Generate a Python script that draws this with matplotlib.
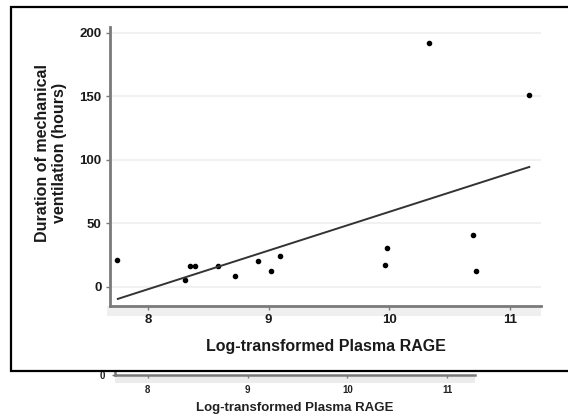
import matplotlib
matplotlib.use('Agg')
import matplotlib.pyplot as plt
from matplotlib.patches import Rectangle
import numpy as np

plt.rcParams['font.family'] = ['Liberation Sans', 'DejaVu Sans']

# scatter values
rage = [7.74, 8.31, 8.35, 8.39, 8.58, 8.72, 8.91, 9.02, 9.09,
        9.96, 9.98, 10.33, 10.69, 10.72, 11.16]
hours = [21, 5.5, 16.5, 16.5, 16.5, 8.7, 20.5, 12.6, 24,
         17.3, 30.7, 192, 41, 12.6, 151]
fit_x = [7.75, 11.16]
fit_y = [-9.4, 94.5]

x_ticks = [8, 9, 10, 11]
y_ticks = [0, 50, 100, 150, 200]
x_label = 'Log-transformed Plasma RAGE'
y_label = 'Duration of mechanical\nventilation (hours)'

W, H = 568, 416
fig = plt.figure(figsize=(W / 100, H / 100), dpi=100)


def px(x0, y0, x1, y1):
    # pixel box (top-left origin) -> figure fraction rect
    return [x0 / W, (H - y1) / H, (x1 - x0) / W, (y1 - y0) / H]


spine_col = '#7a7a7a'

# piece of a second copy of the figure, peeking out below the box
ax2 = fig.add_axes(px(115, 345, 475, 375))
ax2.set_zorder(0)
ax2.set_xlim(7.67, 11.28)
ax2.set_ylim(0, 10)
ax2.set_xticks(x_ticks)
ax2.set_yticks([0])
for s in ['top', 'right']:
    ax2.spines[s].set_visible(False)
for s in ['left', 'bottom']:
    ax2.spines[s].set_color(spine_col)
    ax2.spines[s].set_linewidth(1.8)
ax2.tick_params(colors=spine_col, length=2.5, width=1, labelsize=7,
                labelcolor='#222222', pad=5)
for t in ax2.get_xticklabels() + ax2.get_yticklabels():
    t.set_fontweight('bold')
ax2.set_xlabel(x_label, fontsize=9.5, fontweight='bold', color='#222222',
               labelpad=5)
ax2.add_patch(Rectangle((0, -0.25), 1, 0.25, transform=ax2.transAxes,
                        clip_on=False, color='#ececec', zorder=0, lw=0))

# the white framed box
box = Rectangle((11 / W, (H - 371) / H), 1.0, (371 - 7) / H,
                transform=fig.transFigure, facecolor='white',
                edgecolor='black', linewidth=1.6, zorder=1)
fig.patches.append(box)

ax = fig.add_axes(px(110, 27, 541, 306))
ax.set_zorder(2)
ax.set_xlim(7.685, 11.257)
ax.set_ylim(-15, 204.7)
ax.set_xticks(x_ticks)
ax.set_yticks(y_ticks)
ax.grid(axis='y', color='#efefef', linewidth=1.2)
ax.set_axisbelow(True)

ax.scatter(rage, hours, s=9, color='black', zorder=3)
ax.plot(fit_x, fit_y, color='#333333', linewidth=1.4, zorder=3)

for s in ['top', 'right']:
    ax.spines[s].set_visible(False)
for s in ['left', 'bottom']:
    ax.spines[s].set_color(spine_col)
    ax.spines[s].set_linewidth(2)
ax.tick_params(colors=spine_col, length=3, width=1, labelsize=9.5,
               labelcolor='#1a1a1a', pad=3)
for t in ax.get_xticklabels() + ax.get_yticklabels():
    t.set_fontweight('bold')
ax.set_xlabel(x_label, fontsize=11.5, fontweight='bold', color='#1a1a1a',
              labelpad=9)
ax.set_ylabel(y_label, fontsize=11.5, fontweight='bold', color='#1a1a1a',
              linespacing=1.15, va='center')
ax.yaxis.set_label_coords(-0.137, 0.548)
# light shadow band under the x axis
ax.add_patch(Rectangle((-0.008, -0.036), 1.008, 0.036, transform=ax.transAxes,
                       clip_on=False, color='#efefef', zorder=0, lw=0))

fig.savefig('out.png', dpi=100)
